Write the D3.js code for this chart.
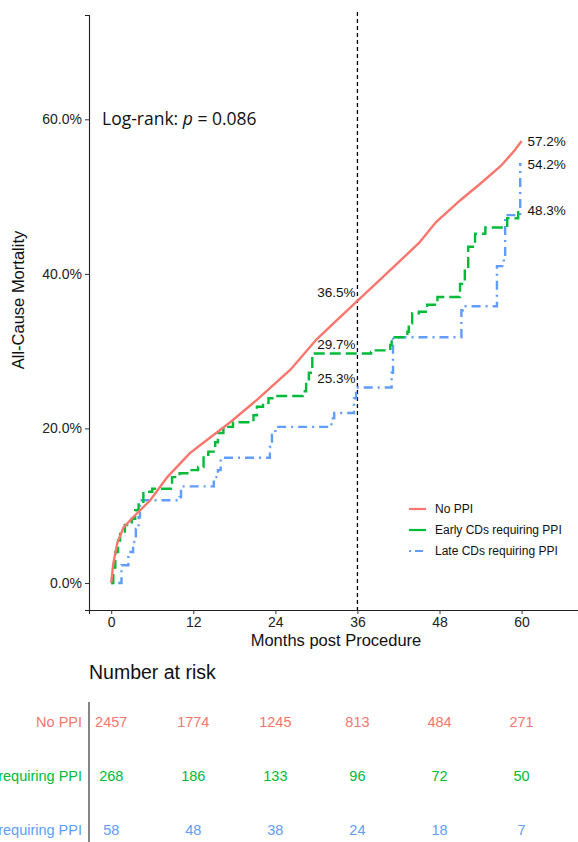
<!DOCTYPE html>
<html>
<head>
<meta charset="utf-8">
<script src="https://cdn.jsdelivr.net/npm/d3@7"></script>
<style>
  body { margin:0; background:#fff; }
  text { font-family: "Liberation Sans", Arial, sans-serif; }
</style>
</head>
<body>
<svg id="chart" width="578" height="842"></svg>
<script>
// group names and colours
var groups = ["No PPI", "Early CDs requiring PPI", "Late CDs requiring PPI"];
var colors = ["#F8766D", "#00BA38", "#619CFF"];

// cumulative mortality (month, percent)
var noPPI = [[0,0],[0.3,2.5],[0.9,5.2],[1.8,7.2],[3.2,8.5],[5.7,10.7],[8.2,13.7],[11.5,16.8],[14,18.5],
  [17.4,20.8],[21.3,23.7],[26.2,27.6],[30,31.5],[33,34],[36,36.5],[39,39],[42.5,41.9],[45,44],
  [47.5,46.7],[51,49.5],[54,51.7],[57,54],[59,56],[60,57.2]];
var earlyCD = [[0,0],[0.3,2],[0.6,4],[1,5.5],[1.3,6.5],[2,7.5],[3,8.3],[3.5,9.4],[4,10.5],[4.7,11.8],
  [6,12.2],[8.9,13.7],[10,14.2],[11.5,14.6],[12.7,15],[13.5,16.6],[14.2,17],[15.2,18.2],[15.6,19.4],
  [16.4,20.2],[17.8,20.8],[20.8,21.7],[21.3,22.8],[22.2,23.3],[23,23.9],[24,24.2],[28,24.8],[28.5,26],
  [28.9,27.2],[29.4,29.7],[38,29.9],[38.5,30.1],[40.8,30.8],[41,31.8],[43.3,32.5],[43.5,33.6],[44,34.9],
  [45,35.1],[46.2,36],[47.7,37],[51,38.7],[51.7,40.6],[52.2,43.5],[53.2,45.2],[54.7,46],[57.9,47.2],
  [59.5,48.3],[60,48.3]];
var lateCD = [[0,0],[1.5,2.3],[2.5,4],[3.2,5.3],[3.6,7],[4,8.5],[4.2,10.7],[10,11.1],[10.2,12.5],
  [15,13.7],[15.6,14.6],[16,16.2],[23.2,17.6],[23.5,19.5],[24,20.2],[32.2,21.3],[32.6,22],[35.5,23.9],
  [35.8,25.3],[41,27.2],[41.2,31.8],[51.2,35.3],[51.4,35.8],[56.4,41],[57.4,41.9],[57.6,47.6],
  [59.8,54.2],[60,54.2]];

// labels at 36 and 60 months
var at36 = [["36.5%",36.5],["29.7%",29.7],["25.3%",25.3]];
var at60 = [["57.2%",57.2],["54.2%",54.2],["48.3%",48.3]];

// number at risk
var riskTimes = [0,12,24,36,48,60];
var riskNo = [2457,1774,1245,813,484,271];
var riskEarly = [268,186,133,96,72,50];
var riskLate = [58,48,38,24,18,7];

var svg = d3.select("#chart");

var x = d3.scaleLinear().domain([-3.25, 68.25]).range([89, 578]);
var y = d3.scaleLinear().domain([-3.5, 73.5]).range([610, 15]);

// axes
var xAxis = d3.axisBottom(x).tickValues([0,12,24,36,48,60]).tickSize(4).tickPadding(3);
var yAxis = d3.axisLeft(y).tickValues([0,20,40,60]).tickFormat(function(d){return d.toFixed(1)+"%";})
  .tickSize(4).tickPadding(3);

var gx = svg.append("g").attr("transform","translate(0,610)").call(xAxis);
var gy = svg.append("g").attr("transform","translate(89,0)").call(yAxis);
[gx, gy].forEach(function(g){
  g.select(".domain").attr("stroke","#222").attr("stroke-width",1.1);
  g.selectAll(".tick line").attr("stroke","#333");
  g.selectAll(".tick text").attr("fill","#222").style("font-size","14px")
    .style("font-family","'Liberation Sans', Arial, sans-serif");
});

// dashed line at 36 months
svg.append("line")
  .attr("x1",x(36)).attr("x2",x(36)).attr("y1",12).attr("y2",610)
  .attr("stroke","#000").attr("stroke-width",1.3).attr("stroke-dasharray","4,3");

// curves
var lineStep = d3.line().x(function(d){return x(d[0]);}).y(function(d){return y(d[1]);}).curve(d3.curveStepAfter);
var lineSmooth = d3.line().x(function(d){return x(d[0]);}).y(function(d){return y(d[1]);});

svg.append("path").datum(lateCD).attr("d",lineStep).attr("fill","none")
  .attr("stroke",colors[2]).attr("stroke-width",2.4).attr("stroke-dasharray","2,5,9,5");
svg.append("path").datum(earlyCD).attr("d",lineStep).attr("fill","none")
  .attr("stroke",colors[1]).attr("stroke-width",2.4).attr("stroke-dasharray","11,5");
svg.append("path").datum(noPPI).attr("d",lineSmooth).attr("fill","none")
  .attr("stroke",colors[0]).attr("stroke-width",2.4);

// value labels
svg.selectAll(".l36").data(at36).enter().append("text")
  .attr("x",x(36)-2).attr("y",function(d){return y(d[1])-4;})
  .attr("text-anchor","end").style("font-size","13.5px").attr("fill","#111")
  .text(function(d){return d[0];});
svg.selectAll(".l60").data(at60).enter().append("text")
  .attr("x",x(60)+6).attr("y",function(d){return y(d[1])+5;})
  .style("font-size","13.5px").attr("fill","#111")
  .text(function(d){return d[0];});

// log-rank text
var lr = svg.append("text").attr("x",102).attr("y",125)
  .style("font-family","'Open Sans', 'Noto Sans', sans-serif").style("font-size","17.5px").attr("fill","#111");
lr.append("tspan").text("Log-rank: ");
lr.append("tspan").style("font-style","italic").text("p");
lr.append("tspan").text(" = 0.086");

// axis titles
svg.append("text").attr("x",336).attr("y",646).attr("text-anchor","middle")
  .style("font-size","16.5px").attr("fill","#111").text("Months post Procedure");
svg.append("text").attr("transform","translate(24,300) rotate(-90)").attr("text-anchor","middle")
  .style("font-size","16.5px").attr("fill","#111").text("All-Cause Mortality");

// legend
var legY = [509, 530, 551];
var dashes = [null, null, "2,4,8,4"];
groups.forEach(function(name,i){
  svg.append("line").attr("x1",409).attr("x2",426).attr("y1",legY[i]).attr("y2",legY[i])
    .attr("stroke",colors[i]).attr("stroke-width",2.2).attr("stroke-dasharray",dashes[i]);
  svg.append("text").attr("x",435).attr("y",legY[i]+4).style("font-size","12px").attr("fill","#111").text(name);
});

// risk table
svg.append("text").attr("x",89).attr("y",679).style("font-size","19.5px").attr("fill","#111").text("Number at risk");
svg.append("line").attr("x1",89).attr("x2",89).attr("y1",702).attr("y2",842).attr("stroke","#222").attr("stroke-width",1.1);

var rowY = [722, 776, 830];
var riskRows = [riskNo, riskEarly, riskLate];
riskRows.forEach(function(row,i){
  svg.append("text").attr("x",82).attr("y",rowY[i]+5).attr("text-anchor","end")
    .style("font-size","14.5px").attr("fill",colors[i]).text(groups[i]);
  svg.selectAll(".r"+i).data(row).enter().append("text")
    .attr("x",function(d,j){return x(riskTimes[j]);}).attr("y",rowY[i]+5)
    .attr("text-anchor","middle").style("font-size","14.5px").attr("fill",colors[i])
    .text(function(d){return d;});
});
</script>
</body>
</html>
